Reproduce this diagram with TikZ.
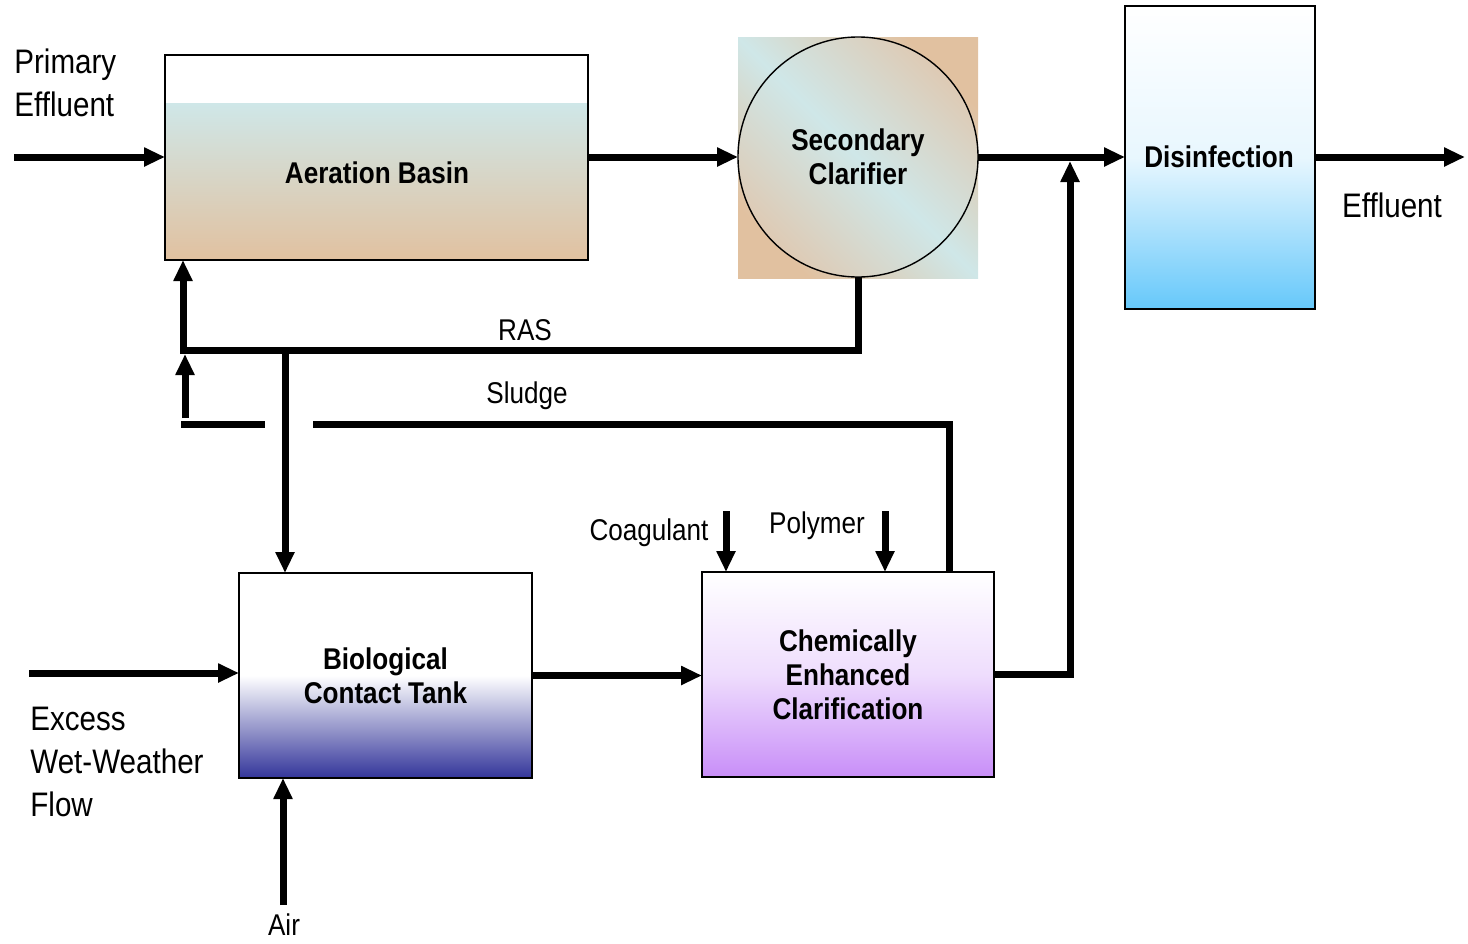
\documentclass[tikz,border=0pt]{standalone}
\usepackage{fontspec}
\setmainfont{Liberation Sans}[FakeStretch=0.87]
\usetikzlibrary{arrows.meta}
\definecolor{watercyan}{RGB}{207,231,232}
\definecolor{sludgetan}{RGB}{225,193,160}
\definecolor{softtan}{RGB}{222,202,180}
\definecolor{uvblue}{RGB}{102,200,250}
\definecolor{deepblue}{RGB}{51,53,154}
\definecolor{chemviolet}{RGB}{200,142,248}
\begin{document}
\begin{tikzpicture}[x=0.5pt,y=-0.5pt,
		unit/.style={draw,line width=1pt,inner sep=0pt,outer sep=0pt,align=center,
			font=\fontsize{15}{17}\selectfont\bfseries},
		lbl/.style={inner sep=0pt,align=left,font=\fontsize{17}{21.5}\selectfont},
		slbl/.style={inner sep=0pt,font=\fontsize{15}{18}\selectfont},
		pipe/.style={line width=3.5pt},
		flow/.style={pipe,-{Triangle[length=10.5pt,width=9pt]}}]
			\useasboundingbox (0,0) rectangle (1468,943);

			% Process units
			\shade[top color=watercyan,bottom color=sludgetan] (165,103) rectangle (588,260);
			\node[unit,minimum width=211.5pt,minimum height=102.5pt] (aer) at (376.5,157.5) {};
			\node[font=\fontsize{15}{17}\selectfont\bfseries] (aerTxt) at (377,173) {Aeration Basin};
			\shade[left color=sludgetan,right color=sludgetan,middle color=watercyan,shading angle=-45]
				(738,37) rectangle (978,278);
			\node[unit,circle,line width=0.7pt,minimum size=120pt,left color=softtan,right color=softtan,
				middle color=watercyan,shading angle=-45] (clar) at (858,157) {Secondary\\Clarifier};
			\node[unit,minimum width=95pt,minimum height=151.5pt,top color=white,bottom color=uvblue,
				middle color=uvblue!15!white] (dis) at (1220,157.5) {};
			\node[font=\fontsize{15}{17}\selectfont\bfseries] (disTxt) at (1219,157) {Disinfection};
			\node[unit,minimum width=146.5pt,minimum height=102.5pt,top color=white,bottom color=deepblue,
				middle color=white] (bct) at (385.5,675.5) {Biological\\Contact Tank};
			\node[unit,minimum width=146pt,minimum height=102.5pt,top color=white,bottom color=chemviolet,
				middle color=chemviolet!30!white] (cec) at (848,674.5) {Chemically\\Enhanced\\Clarification};

			% Free ends
			\coordinate (peIn) at (14,157);
			\coordinate (effOut) at (1465,157);
			\coordinate (merge) at (1070,161);
			\coordinate (rasL) at (183,350);
			\coordinate (rasB) at (285,350);
			\coordinate (rasLow) at (185,354);
			\coordinate (sludgeR) at (949,424);
			\coordinate (sludgeEnd) at (313,424);
			\coordinate (stubL) at (181,424);
			\coordinate (stubR) at (265,424);
			\coordinate (stubUp) at (185,418);
			\coordinate (wwIn) at (29,673);
			\coordinate (coagIn) at (726,511);
			\coordinate (polyIn) at (885,511);
			\coordinate (airIn) at (283,905);

			% Main flow
			\draw[flow] (peIn) -- (peIn -| aer.west);
			\draw[flow] (aer.east |- clar.west) -- (clar.west);
			\draw[flow] (clar.east) -- (clar.east -| dis.west);
			\draw[flow] (dis.east |- effOut) -- (effOut);
			\draw[flow] (wwIn) -- (wwIn -| bct.west);
			\draw[flow] (bct.east) -- (bct.east -| cec.west);
			\draw[flow] (cec.east) -| (merge);

			% Return and sludge lines
			\draw[flow] (clar.south) |- (rasL) -- (rasL |- aer.south);
			\draw[flow] (rasB) -- (rasB |- bct.north);
			\draw[pipe] (cec.north -| sludgeR) -- (sludgeR) -- (sludgeEnd);
			\draw[pipe] (stubL) -- (stubR);
			\draw[flow] (stubUp) -- (rasLow);

			% Chemical and air feeds
			\draw[flow] (coagIn) -- (coagIn |- cec.north);
			\draw[flow] (polyIn) -- (polyIn |- cec.north);
			\draw[flow] (airIn) -- (airIn |- bct.south);

			% Labels
			\node[lbl,anchor=west] (peTxt) at (14,83) {Primary\\Effluent};
			\node[lbl] (effTxt) at (1392,205) {Effluent};
			\node[lbl,anchor=west] (wwTxt) at (30,762) {Excess\\Wet-Weather\\Flow};
			\node[slbl] (rasTxt) at (525,330) {RAS};
			\node[slbl] (sludgeTxt) at (527,396) {Sludge};
			\node[slbl] (coagTxt) at (649,533) {Coagulant};
			\node[slbl] (polyTxt) at (817,526) {Polymer};
			\node[slbl] (airTxt) at (284,925) {Air};
		\end{tikzpicture}
\end{document}
